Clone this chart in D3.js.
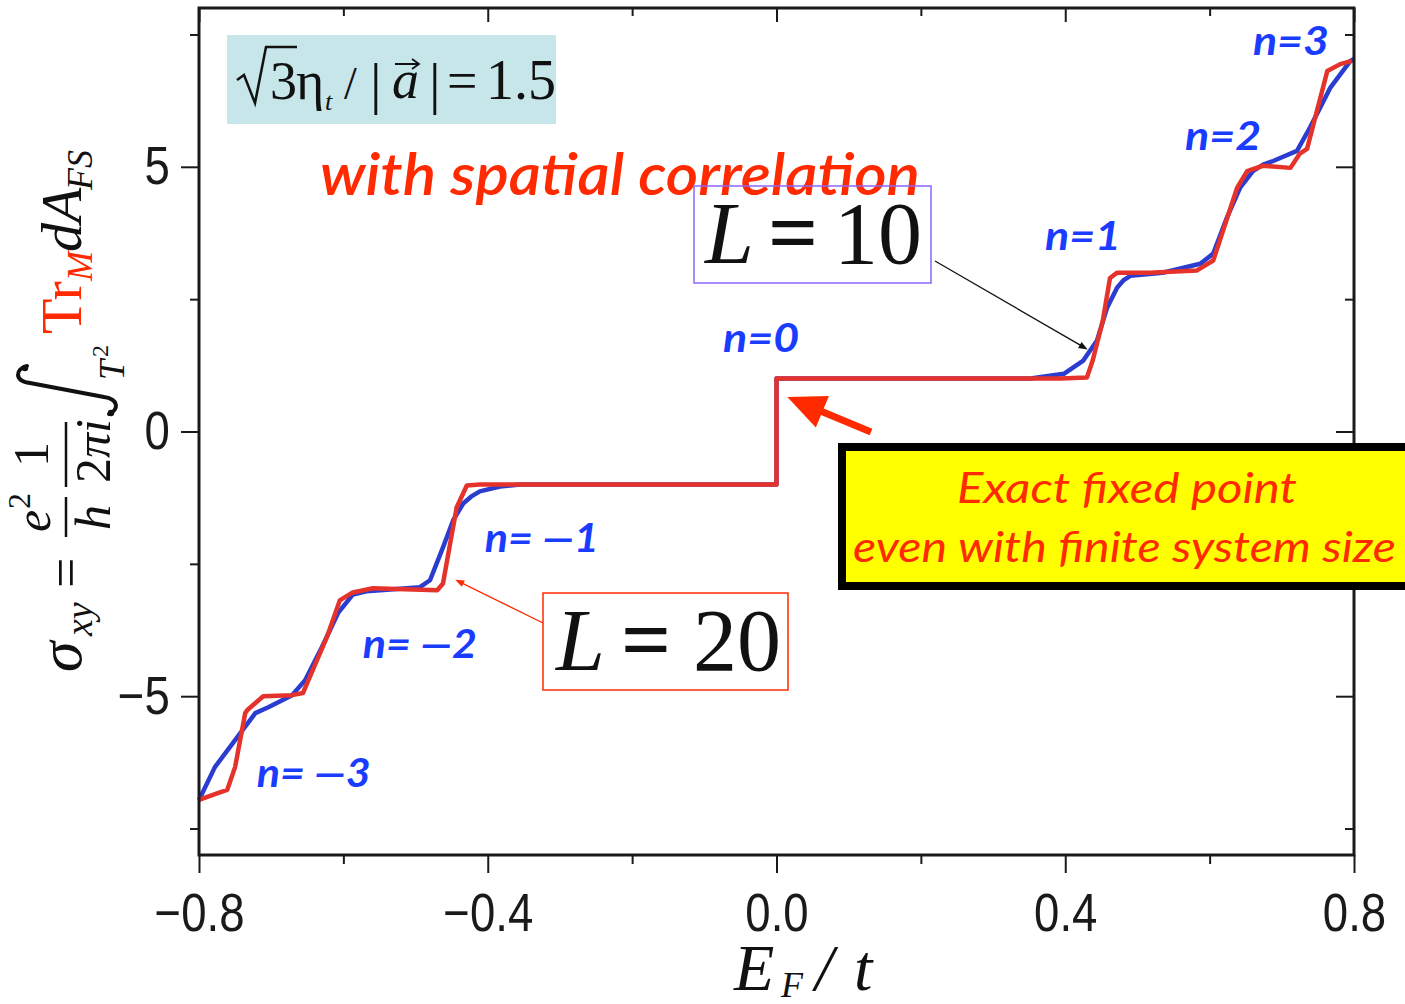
<!DOCTYPE html>
<html>
<head>
<meta charset="utf-8">
<script src="https://cdn.jsdelivr.net/npm/d3@7"></script>
<style>
  html, body { margin: 0; padding: 0; background: #fff; }
  svg { display: block; }
</style>
</head>
<body>
<svg id="chart" width="1405" height="1004"></svg>
<script>
// Hall conductivity vs Fermi energy for two system sizes
const energyL10 = [-0.800,-0.778,-0.750,-0.722,-0.704,-0.671,-0.653,-0.630,-0.607,-0.587,-0.568,-0.549,-0.494,-0.480,-0.462,-0.448,-0.434,-0.422,-0.411,-0.383,-0.355,0.000,0.000,0.352,0.398,0.425,0.444,0.458,0.472,0.481,0.490,0.535,0.587,0.605,0.624,0.642,0.660,0.674,0.688,0.721,0.739,0.767,0.795,0.800];
const sigmaL10  = [-6.96,-6.34,-5.83,-5.32,-5.21,-4.98,-4.70,-4.08,-3.42,-3.08,-3.02,-3.00,-2.94,-2.81,-2.19,-1.68,-1.36,-1.22,-1.13,-1.04,-1.00,-1.00,1.00,1.00,1.09,1.34,1.72,2.34,2.72,2.86,2.94,3.00,3.17,3.36,4.04,4.60,4.92,5.04,5.11,5.30,5.74,6.49,7.00,7.04];

const energyL20 = [-0.800,-0.774,-0.761,-0.750,-0.736,-0.733,-0.711,-0.671,-0.656,-0.650,-0.623,-0.605,-0.587,-0.559,-0.470,-0.462,-0.452,-0.443,-0.429,-0.411,0.000,0.000,0.393,0.430,0.438,0.452,0.462,0.472,0.517,0.582,0.605,0.638,0.652,0.674,0.712,0.725,0.735,0.763,0.781,0.797];
const sigmaL20  = [-6.96,-6.83,-6.77,-6.34,-5.32,-5.26,-5.00,-4.98,-4.94,-4.75,-3.89,-3.19,-3.04,-2.96,-3.00,-2.87,-2.11,-1.43,-1.02,-1.00,-1.00,1.00,1.00,1.02,1.34,2.09,2.90,3.00,3.00,3.04,3.23,4.60,4.92,5.02,4.98,5.25,5.34,6.81,6.94,7.00];

const xMajorTicks = [-0.8, -0.4, 0.0, 0.4, 0.8];
const xMinorTicks = [-0.6, -0.2, 0.2, 0.6];
const yMajorTicks = [-5, 0, 5];
const yMinorTicks = [-7.5, -2.5, 2.5, 7.5];

// plateau labels: Chern number n, placed by the energy / conductivity of their left baseline corner
const plateauN      = ["n=3", "n=2", "n=1", "n=0", "n= \u20141", "n= \u20142", "n= \u20143"];
const plateauLabelE = [0.660, 0.566, 0.372, -0.074, -0.404, -0.573, -0.720];
const plateauLabelS = [7.11, 5.32, 3.43, 1.50, -2.28, -4.28, -6.72];

const sizeLabels = ["L = 10", "L = 20"];

const svg = d3.select("#chart");
const W = 1405, H = 1004;
const plotL = 199, plotR = 1354, plotT = 8, plotB = 855;

const x = d3.scaleLinear().domain([-0.8, 0.8]).range([plotL, plotR]);
const y = d3.scaleLinear().domain([-8, 8]).range([plotB, plotT]);

const red = "#ff2a00", blue = "#1a3cff";
const serif = "'Liberation Serif', 'Times New Roman', serif";
const tickFont = "'Liberation Sans', Arial, sans-serif";
const geoFont = "Lato, 'Open Sans', sans-serif";

svg.append("rect").attr("width", W).attr("height", H).attr("fill", "#fff");

// ---- axes ----
function styleAxis(g) {
  g.select(".domain").remove();
  g.selectAll("line").attr("stroke", "#1a1a1a").attr("stroke-width", 2);
  // tick numbers are set in a condensed face: squeeze horizontally
  g.selectAll("text").attr("font-family", tickFont).attr("font-size", 53).attr("fill", "#1a1a1a")
    .attr("transform", "scale(0.86,1)");
}
const fmtX = d3.format(".1f");
// bottom: outward ticks with labels
svg.append("g").attr("transform", `translate(0,${plotB})`)
  .call(d3.axisBottom(x).tickValues(xMajorTicks).tickSize(18).tickPadding(20).tickFormat(fmtX))
  .call(styleAxis);
svg.append("g").attr("transform", `translate(0,${plotB})`)
  .call(d3.axisBottom(x).tickValues(xMinorTicks).tickSize(9).tickFormat(""))
  .call(styleAxis);
// top: inward ticks
svg.append("g").attr("transform", `translate(0,${plotT})`)
  .call(d3.axisTop(x).tickValues(xMajorTicks).tickSize(-14).tickFormat(""))
  .call(styleAxis);
svg.append("g").attr("transform", `translate(0,${plotT})`)
  .call(d3.axisTop(x).tickValues(xMinorTicks).tickSize(-8).tickFormat(""))
  .call(styleAxis);
// left: outward ticks with labels
svg.append("g").attr("transform", `translate(${plotL},0)`)
  .call(d3.axisLeft(y).tickValues(yMajorTicks).tickSize(18).tickPadding(16).tickFormat(d3.format("d")))
  .call(styleAxis);
svg.append("g").attr("transform", `translate(${plotL},0)`)
  .call(d3.axisLeft(y).tickValues(yMinorTicks).tickSize(9).tickFormat(""))
  .call(styleAxis);
// right: inward ticks
svg.append("g").attr("transform", `translate(${plotR},0)`)
  .call(d3.axisRight(y).tickValues(yMajorTicks).tickSize(-18).tickFormat(""))
  .call(styleAxis);
svg.append("g").attr("transform", `translate(${plotR},0)`)
  .call(d3.axisRight(y).tickValues(yMinorTicks).tickSize(-9).tickFormat(""))
  .call(styleAxis);

// ---- top-left parameter box ----
svg.append("rect").attr("x", 227).attr("y", 35).attr("width", 329).attr("height", 89).attr("fill", "#c6e6ea");
svg.append("path").attr("d", "M237,80 L244,75 L255,103 L266,47 L297,47")
  .attr("fill", "none").attr("stroke", "#111").attr("stroke-width", 2.5).attr("stroke-linejoin", "miter");
const par = svg.append("g").attr("font-family", serif).attr("fill", "#111");
par.append("text").attr("x", 270).attr("y", 99).attr("font-size", 54).text("3");
par.append("text").attr("x", 296).attr("y", 99).attr("font-size", 54).text("\u03b7");
par.append("text").attr("x", 325).attr("y", 110).attr("font-size", 26).attr("font-style", "italic").text("t");
par.append("text").attr("x", 344).attr("y", 99).attr("font-size", 46).text("/");
par.append("text").attr("x", 370).attr("y", 103).attr("font-size", 58).text("|");
par.append("text").attr("x", 392).attr("y", 98).attr("font-size", 54).attr("font-style", "italic").text("a");
par.append("path").attr("d", "M395,64 L418,64 M412,59 L419,64 L412,69").attr("fill", "none").attr("stroke", "#111").attr("stroke-width", 1.8);
par.append("text").attr("x", 429).attr("y", 103).attr("font-size", 58).text("|");
par.append("text").attr("x", 447).attr("y", 99).attr("font-size", 54).text("=");
par.append("text").attr("x", 486).attr("y", 99).attr("font-size", 56).text("1.5");

// ---- subtitle ----
svg.append("text").attr("x", 320).attr("y", 195)
  .attr("font-family", geoFont).attr("font-style", "italic").attr("font-weight", 600)
  .attr("font-size", 58).attr("fill", red)
  .attr("textLength", 600).attr("lengthAdjust", "spacingAndGlyphs")
  .text("with spatial correlation");

// ---- curves ----
const line = d3.line().x(d => x(d[0])).y(d => y(d[1]));
svg.append("path").datum(d3.zip(energyL10, sigmaL10)).attr("d", line)
  .attr("fill", "none").attr("stroke", "#2b3dd0").attr("stroke-width", 4.5).attr("stroke-linejoin", "round");
svg.append("path").datum(d3.zip(energyL20, sigmaL20)).attr("d", line)
  .attr("fill", "none").attr("stroke", "#e5322a").attr("stroke-width", 4.5).attr("stroke-linejoin", "round");

// ---- plot frame ----
svg.append("rect").attr("x", plotL).attr("y", plotT).attr("width", plotR - plotL).attr("height", plotB - plotT)
  .attr("fill", "none").attr("stroke", "#1a1a1a").attr("stroke-width", 3);

// ---- plateau labels ----
svg.append("g").selectAll("text").data(plateauN).join("text")
  .attr("x", (d, i) => x(plateauLabelE[i]))
  .attr("y", (d, i) => y(plateauLabelS[i]))
  .attr("font-family", geoFont).attr("font-style", "italic").attr("font-weight", 700)
  .attr("font-size", 41).attr("fill", blue)
  .attr("textLength", d => d.length > 4 ? 114 : 76).attr("lengthAdjust", "spacingAndGlyphs")
  .text(d => d);

// ---- arrows ----
function arrow(x1, y1, x2, y2, color, width, headLen, headHalf) {
  const dx = x2 - x1, dy = y2 - y1, len = Math.hypot(dx, dy);
  const ux = dx / len, uy = dy / len, px = -uy, py = ux;
  const bx = x2 - ux * headLen, by = y2 - uy * headLen;
  svg.append("line").attr("x1", x1).attr("y1", y1).attr("x2", bx + ux * 2).attr("y2", by + uy * 2)
    .attr("stroke", color).attr("stroke-width", width);
  svg.append("path")
    .attr("d", `M${x2},${y2} L${bx + px * headHalf},${by + py * headHalf} L${bx - px * headHalf},${by - py * headHalf} Z`)
    .attr("fill", color);
}

// L = 10 label box
svg.append("rect").attr("x", 694).attr("y", 186).attr("width", 237).attr("height", 97)
  .attr("fill", "none").attr("stroke", "#8a66ff").attr("stroke-width", 1.5);
const l10 = svg.append("text").attr("x", 705).attr("y", 263).attr("font-family", serif).attr("font-size", 88).attr("fill", "#111");
l10.append("tspan").attr("font-style", "italic").text(sizeLabels[0].split(" ")[0]);
l10.append("tspan").attr("dx", 14).attr("font-weight", 700).text("=");
l10.append("tspan").attr("dx", 16).text(sizeLabels[0].split(" ")[2]);
arrow(935, 261, x(0.431), y(1.55), "#111", 1.3, 9, 3.5);

// L = 20 label box
svg.append("rect").attr("x", 543).attr("y", 593).attr("width", 245).attr("height", 97)
  .attr("fill", "#fff").attr("stroke", red).attr("stroke-width", 1.5);
const l20 = svg.append("text").attr("x", 556).attr("y", 670).attr("font-family", serif).attr("font-size", 88).attr("fill", "#111");
l20.append("tspan").attr("font-style", "italic").text(sizeLabels[1].split(" ")[0]);
l20.append("tspan").attr("dx", 16).attr("font-weight", 700).text("=");
l20.append("tspan").attr("dx", 22).text(sizeLabels[1].split(" ")[2]);
arrow(543, 623, x(-0.445), y(-2.8), red, 1.3, 9, 3.5);

// fixed-point arrow
arrow(871, 432, x(0.015), y(0.65), red, 7, 38, 17);

// ---- yellow note ----
svg.append("rect").attr("x", 842).attr("y", 447).attr("width", 620).attr("height", 139)
  .attr("fill", "#ffff00").attr("stroke", "#000").attr("stroke-width", 8);
svg.append("text").attr("x", 957).attr("y", 503)
  .attr("font-family", geoFont).attr("font-style", "italic").attr("font-size", 42).attr("fill", red)
  .attr("textLength", 340).attr("lengthAdjust", "spacingAndGlyphs").text("Exact fixed point");
svg.append("text").attr("x", 853).attr("y", 562)
  .attr("font-family", geoFont).attr("font-style", "italic").attr("font-size", 42).attr("fill", red)
  .attr("textLength", 543).attr("lengthAdjust", "spacingAndGlyphs").text("even with finite system size");

// ---- x axis title ----
const xt = svg.append("g").attr("font-family", serif).attr("fill", "#111");
xt.append("text").attr("x", 734).attr("y", 990).attr("font-size", 66).attr("font-style", "italic").text("E");
xt.append("text").attr("x", 781).attr("y", 997).attr("font-size", 36).attr("font-style", "italic").text("F");
xt.append("text").attr("x", 815).attr("y", 990).attr("font-size", 66).attr("font-style", "italic").text("/");
xt.append("text").attr("x", 854).attr("y", 990).attr("font-size", 66).attr("font-style", "italic").text("t");

// ---- y axis title (rotated formula) ----
const yt = svg.append("g").attr("transform", "translate(0,680) rotate(-90)")
  .attr("font-family", serif).attr("fill", "#111");
yt.append("text").attr("x", 8).attr("y", 81).attr("font-size", 62).attr("font-style", "italic").text("\u03c3");
yt.append("text").attr("x", 44).attr("y", 92).attr("font-size", 38).attr("font-style", "italic").text("xy");
yt.append("text").attr("x", 92).attr("y", 84).attr("font-size", 54).text("=");
yt.append("text").attr("x", 148).attr("y", 50).attr("font-size", 50).attr("font-style", "italic").text("e");
yt.append("text").attr("x", 171).attr("y", 30).attr("font-size", 32).text("2");
yt.append("line").attr("x1", 143).attr("x2", 183).attr("y1", 66).attr("y2", 66).attr("stroke", "#111").attr("stroke-width", 2.5);
yt.append("text").attr("x", 150).attr("y", 110).attr("font-size", 50).attr("font-style", "italic").text("h");
yt.append("text").attr("x", 213).attr("y", 48).attr("font-size", 50).text("1");
yt.append("line").attr("x1", 193).attr("x2", 258).attr("y1", 66).attr("y2", 66).attr("stroke", "#111").attr("stroke-width", 2.5);
const den = yt.append("text").attr("x", 197).attr("y", 110).attr("font-size", 50);
den.append("tspan").text("2");
den.append("tspan").attr("font-style", "italic").text("\u03c0i");
yt.append("path").attr("d", "M314,27 C311,15 299,14 297,30 L283,104 C281,119 270,119 266,109")
  .attr("fill", "none").attr("stroke", "#111").attr("stroke-width", 4).attr("stroke-linecap", "round");
yt.append("circle").attr("cx", 312).attr("cy", 25).attr("r", 3.2).attr("fill", "#111");
yt.append("circle").attr("cx", 267).attr("cy", 111).attr("r", 3.2).attr("fill", "#111");
yt.append("text").attr("x", 300).attr("y", 124).attr("font-size", 36).attr("font-style", "italic").text("T");
yt.append("text").attr("x", 323).attr("y", 108).attr("font-size", 24).text("2");
yt.append("text").attr("x", 346).attr("y", 81).attr("font-size", 58).attr("fill", red).text("Tr");
yt.append("text").attr("x", 399).attr("y", 92).attr("font-size", 36).attr("font-style", "italic").attr("fill", red).text("M");
yt.append("text").attr("x", 428).attr("y", 81).attr("font-size", 58).attr("font-style", "italic").text("dA");
yt.append("text").attr("x", 490).attr("y", 92).attr("font-size", 36).attr("font-style", "italic").text("FS");
</script>
</body>
</html>
